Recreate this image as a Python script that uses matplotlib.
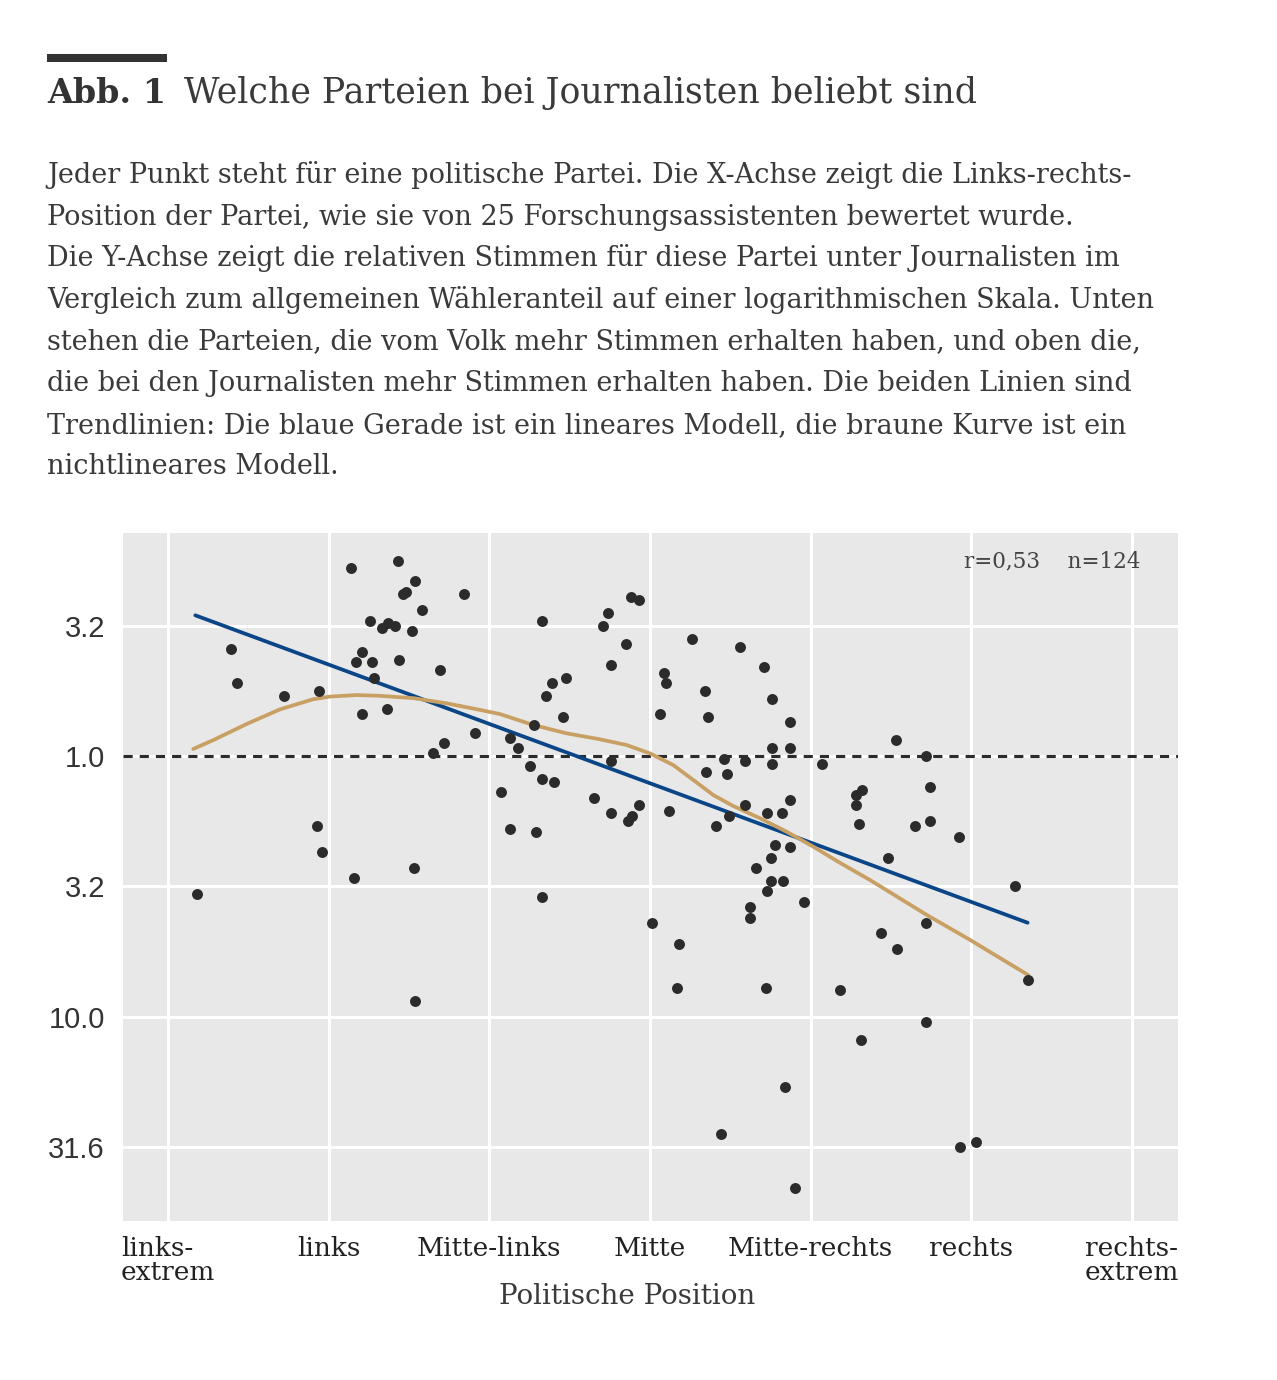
import numpy as np
import matplotlib
matplotlib.use('Agg')
import matplotlib.pyplot as plt
from matplotlib import font_manager

# fonts: slab serif if there is one, else DejaVu Serif
installed = {f.name for f in font_manager.fontManager.ttflist}
slab = next((f for f in ['Roboto Slab', 'DejaVu Serif Condensed', 'DejaVu Serif'] if f in installed), 'serif')
sans = 'Liberation Sans' if 'Liberation Sans' in installed else 'DejaVu Sans'

# party position (0 = links-extrem ... 6 = rechts-extrem)
position = [0.18, 0.39, 0.43, 0.72, 0.94, 0.93, 0.96, 1.14, 1.16, 1.17,
            1.21, 1.21, 1.26, 1.27, 1.28, 1.33, 1.37, 1.36, 1.41, 1.43,
            1.44, 1.46, 1.48, 1.52, 1.53, 1.54, 1.54, 1.58, 1.65, 1.69,
            1.72, 1.84, 1.91, 2.07, 2.13, 2.13, 2.18, 2.25, 2.28, 2.29,
            2.33, 2.33, 2.33, 2.35, 2.39, 2.40, 2.46, 2.48, 2.65, 2.71,
            2.74, 2.76, 2.76, 2.76, 2.85, 2.86, 2.88, 2.89, 2.93, 2.93,
            3.06, 3.09, 3.10, 3.12, 3.26, 3.34, 3.35, 3.36, 3.41, 3.46,
            3.48, 3.49, 3.56, 3.59, 3.59, 3.71, 3.66, 3.73, 3.73, 3.75,
            3.75, 3.76, 3.76, 3.76, 3.78, 3.82, 3.83, 3.87, 3.87, 3.87,
            3.87, 4.07, 3.62, 3.62, 3.01, 3.18, 3.17, 3.72, 3.96, 3.84,
            3.44, 3.90, 4.18, 4.28, 4.32, 4.28, 4.30, 4.53, 4.72, 4.74,
            4.65, 4.74, 4.92, 4.48, 5.27, 4.72, 4.44, 4.54, 5.35, 4.72,
            4.31, 4.93, 5.03]

# log10 of (share among journalists / share among voters)
log_ratio = [-0.53, 0.41, 0.28, 0.23, 0.25, -0.27, -0.37, 0.72, -0.47, 0.36,
             0.40, 0.16, 0.52, 0.36, 0.30, 0.49, 0.51, 0.18, 0.50, 0.75,
             0.37, 0.62, 0.63, 0.48, -0.43, 0.67, -0.94, 0.56, 0.01, 0.33,
             0.05, 0.62, 0.09, -0.14, 0.07, -0.28, 0.03, -0.04, 0.12, -0.29,
             -0.09, 0.52, -0.54, 0.23, 0.28, -0.10, 0.15, 0.30, -0.16, 0.50,
             0.55, 0.35, -0.02, -0.22, 0.43, -0.25, 0.61, -0.23, -0.19, 0.60,
             0.16, 0.32, 0.28, -0.21, 0.45, 0.25, -0.06, 0.15, -0.27, -0.01,
             -0.07, -0.23, 0.42, -0.02, -0.19, 0.34, -0.43, -0.52, -0.22, -0.48,
             -0.39, 0.22, 0.03, -0.03, -0.34, -0.22, -0.48, -0.35, 0.13, 0.03,
             -0.17, -0.03, -0.58, -0.62, -0.64, -0.72, -0.89, -0.89, -0.56, -1.27,
             -1.45, -1.66, -0.90, -0.15, -0.13, -0.19, -0.26, 0.06, 0.00, -0.12,
             -0.27, -0.25, -0.31, -0.39, -0.50, -0.64, -0.68, -0.74, -0.86, -1.02,
             -1.09, -1.50, -1.48]

# trend lines
linear_x = [0.17, 5.35]
linear_y = [0.54, -0.64]
smooth_x = [0.157, 0.282, 0.490, 0.697, 0.904, 1.008, 1.174, 1.319, 1.527, 1.735,
            1.942, 2.066, 2.274, 2.481, 2.689, 2.855, 3.000, 3.145, 3.269, 3.394,
            3.518, 3.685, 3.851, 4.016, 4.182, 4.369, 4.722, 4.992, 5.354]
smooth_y = [0.027, 0.061, 0.123, 0.179, 0.218, 0.228, 0.234, 0.231, 0.222, 0.202,
            0.177, 0.161, 0.119, 0.087, 0.064, 0.042, 0.010, -0.035, -0.092, -0.150,
            -0.192, -0.239, -0.291, -0.348, -0.410, -0.476, -0.610, -0.706, -0.841]

x_labels = ['links-\nextrem', 'links', 'Mitte-links', 'Mitte', 'Mitte-rechts', 'rechts', 'rechts-\nextrem']
y_ticks = [0.5, 0.0, -0.5, -1.0, -1.5]
y_labels = ['3.2', '1.0', '3.2', '10.0', '31.6']

title_num = 'Abb. 1'
title = 'Welche Parteien bei Journalisten beliebt sind'
desc_lines = [
    'Jeder Punkt steht für eine politische Partei. Die X-Achse zeigt die Links-rechts-',
    'Position der Partei, wie sie von 25 Forschungsassistenten bewertet wurde.',
    'Die Y-Achse zeigt die relativen Stimmen für diese Partei unter Journalisten im',
    'Vergleich zum allgemeinen Wähleranteil auf einer logarithmischen Skala. Unten',
    'stehen die Parteien, die vom Volk mehr Stimmen erhalten haben, und oben die,',
    'die bei den Journalisten mehr Stimmen erhalten haben. Die beiden Linien sind',
    'Trendlinien: Die blaue Gerade ist ein lineares Modell, die braune Kurve ist ein',
    'nichtlineares Modell.',
]
stats_text = 'r=0,53    n=124'

W, H = 1277, 1380
fig = plt.figure(figsize=(W / 100, H / 100), dpi=100)
fig.patch.set_facecolor('white')

# header
fig.patches.append(plt.Rectangle((47 / W, 1 - 62 / H), 120 / W, 8 / H, transform=fig.transFigure,
                                 color='#333333', linewidth=0))
fig.text(47 / W, 1 - 103 / H, title_num, fontsize=24, weight='bold', family=slab,
         color='#333333', va='baseline')
fig.text(184 / W, 1 - 103 / H, title, fontsize=25, family=slab, color='#3a3a3a', va='baseline')
for i, line in enumerate(desc_lines):
    fig.text(47 / W, 1 - (183 + 41.6 * i) / H, line, fontsize=19.5, family=slab,
             color='#3a3a3a', va='baseline')

ax = fig.add_axes([123 / W, 1 - 1221 / H, 1055 / W, 688 / H])
ax.set_facecolor('#e8e8e8')
for s in ax.spines.values():
    s.set_visible(False)
ax.set_axisbelow(True)
ax.grid(color='white', linewidth=2.2)

ax.axhline(0, color='#2b2b2b', linewidth=2.2, dashes=(3, 2.3), zorder=2)
ax.plot(linear_x, linear_y, color='#0a4587', linewidth=2.7, solid_capstyle='round', zorder=3)
ax.plot(smooth_x, smooth_y, color='#c9a063', linewidth=2.7, solid_capstyle='round', zorder=3)
ax.scatter(position, log_ratio, s=62, color='#2b2b2b', linewidths=0, zorder=4)

ax.set_xlim(-0.28, 6.286)
ax.set_ylim(-1.785, 0.856)
ax.set_xticks(range(7))
ax.set_xticklabels(x_labels, family=slab, fontsize=19, color='#222222', linespacing=0.95)
for lbl in ax.get_xticklabels():
    lbl.set_multialignment('left')
ax.set_yticks(y_ticks)
ax.set_yticklabels(y_labels, family=sans, fontsize=21, color='#333333')
ax.tick_params(length=0)
ax.tick_params(axis='x', pad=11)
ax.tick_params(axis='y', pad=13)

ax.text(0.964, 0.959, stats_text, transform=ax.transAxes, ha='right', va='center',
        family=slab, fontsize=15.5, color='#444444')
ax.set_xlabel('Politische Position', family=slab, fontsize=20, color='#3a3a3a')
ax.xaxis.set_label_coords((627 - 123) / 1055, -(1296 - 1221) / 688)
ax.xaxis.label.set_va('center')

fig.savefig('out.png', dpi=100)
